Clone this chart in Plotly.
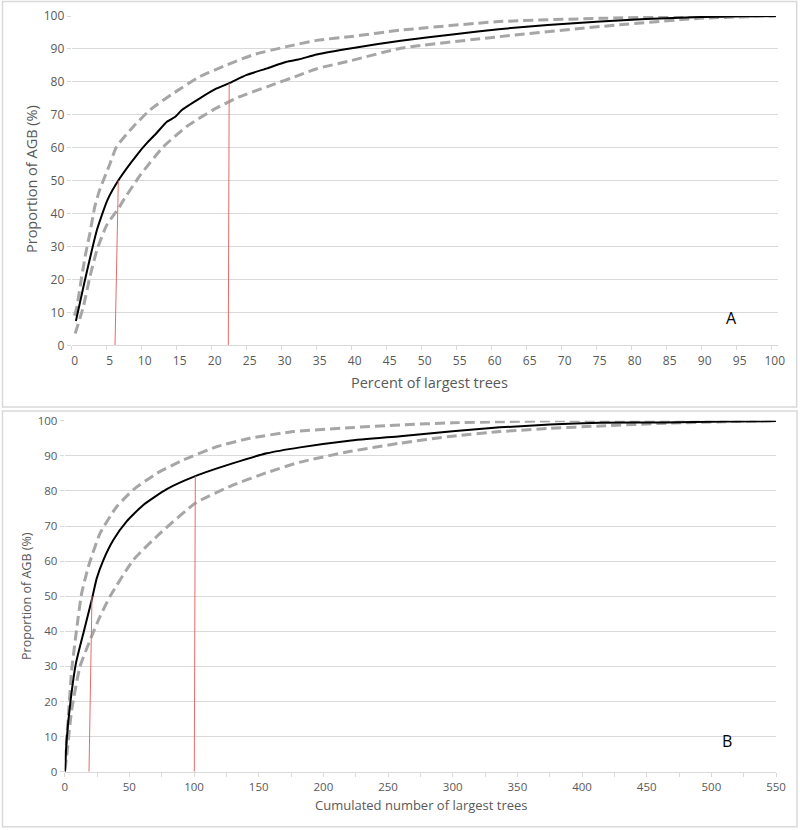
import plotly.graph_objects as go

W, H = 800, 830

# ---- panel A : percent of largest trees ----
a_mean_x = [0.6, 1.9, 3.6, 5.1, 6.7, 9.5, 10.7, 12.1, 13.6, 14.8, 15.7, 18.3, 20.7, 22.5, 25, 27.9,
            30.7, 32.4, 35, 40, 47, 55, 61, 68, 75.5, 82, 89.8, 95, 100.6]
a_mean_y = [7.4, 19.9, 35, 44.1, 50.2, 58.3, 61.3, 64.4, 67.9, 69.4, 71.4, 75.0, 78, 79.6, 82.1, 84.1,
            86.1, 86.8, 88.3, 90.2, 92.5, 94.5, 96.0, 97.3, 98.3, 99.1, 99.7, 99.9, 100]
a_hi_x = [0.4, 0.7, 1.2, 1.43, 2.0, 2.6, 3.3, 4.0, 5.5, 6.4, 8.8, 11.2, 14.5, 18.3, 22.1, 25.9, 30.7,
          35, 40, 47, 61, 75.5, 90, 100.6]
a_hi_y = [9.0, 11.3, 17.7, 20.8, 27.9, 34, 42.1, 47.2, 55.3, 60.3, 66.4, 71.5, 76.5, 81.6, 85.1, 88.2,
          90.7, 92.6, 93.8, 95.7, 98.3, 99.3, 99.8, 100]
a_lo_x = [0.5, 1.66, 2.6, 3.6, 5.0, 6.7, 7.4, 9.8, 13.1, 16.4, 20.2, 24, 27.9, 32.6, 35, 40, 47, 61,
          75.5, 89.8, 100.6]
a_lo_y = [3.6, 11.7, 20.8, 28.9, 36.5, 41.6, 44.1, 51.7, 60.3, 66.4, 71.5, 75.5, 78.5, 82.1, 84, 86.5,
          90.2, 93.7, 96.8, 99.3, 100]
a_red1_x, a_red1_y = [6.19, 6.66], [0, 50]
a_red2_x, a_red2_y = [22.37, 22.5], [0, 79.6]
a_ticks = list(range(0, 101, 5))

# ---- panel B : cumulated number of largest trees ----
b_mean_x = [0.2, 1.5, 4.6, 8.7, 14.4, 20.9, 24.7, 29.9, 37.6, 47.9, 60.8, 78.9, 101, 130.4, 156.2, 182,
            220, 259.4, 300, 336.6, 375, 414, 465, 510, 550]
b_mean_y = [0, 9, 20.4, 30.9, 39.4, 48.9, 55, 60.3, 66, 71.3, 76, 80.5, 84.2, 87.9, 90.7, 92.4,
            94.3, 95.6, 97.0, 98.1, 98.9, 99.4, 99.5, 99.8, 99.9]
b_hi_x = [0.2, 2.8, 5.4, 10.5, 13.1, 18.3, 27.3, 40.2, 53, 71.2, 91.7, 117.6, 143.3, 176.8, 220, 259.4,
          300, 336.6, 380, 550]
b_hi_y = [3.3, 15.7, 29, 44.2, 50.8, 58.4, 67.9, 75.5, 80.3, 85, 88.8, 92.6, 95, 96.9, 98.0, 98.8,
          99.4, 99.7, 100, 100]
b_lo_x = [0.2, 1.5, 5.4, 11.8, 19.6, 27.3, 35, 53, 73.7, 101, 130.4, 156.2, 182, 220, 259.4, 300,
          336.6, 375, 414, 465.6, 510, 550]
b_lo_y = [0.5, 4.3, 17.6, 29.9, 37.5, 44.2, 49.9, 60.3, 67.9, 76.5, 81.7, 85.2, 88.2, 91.2, 93.6, 95.6,
          96.9, 97.8, 98.5, 99.3, 99.7, 100]
b_red1_x, b_red1_y = [18.8, 21.1], [0, 50]
b_red2_x, b_red2_y = [100.2, 101], [0, 84.2]

FONT = "Open Sans"
GREY_TXT = "#595959"
GRID = "#d9d9d9"
DASH_COL = "#a6a6a6"
RED = "#e86a6a"


def X(p):
    return p / W


def Y(p):
    return 1 - p / H


fig = go.Figure()


def add_panel(xa, ya, mean, hi, lo, reds):
    for xs, ys in (hi, lo):
        fig.add_trace(go.Scatter(x=xs, y=ys, mode="lines", xaxis=xa, yaxis=ya,
                                 line=dict(color=DASH_COL, width=3, dash="10px,5px",
                                           shape="spline", smoothing=0.5)))
    fig.add_trace(go.Scatter(x=mean[0], y=mean[1], mode="lines", xaxis=xa, yaxis=ya,
                             line=dict(color="black", width=2, shape="spline", smoothing=0.5)))
    for xs, ys in reds:
        fig.add_trace(go.Scatter(x=xs, y=ys, mode="lines", xaxis=xa, yaxis=ya,
                                 line=dict(color=RED, width=1)))


add_panel("x", "y", (a_mean_x, a_mean_y), (a_hi_x, a_hi_y), (a_lo_x, a_lo_y),
          [(a_red1_x, a_red1_y), (a_red2_x, a_red2_y)])
add_panel("x2", "y2", (b_mean_x, b_mean_y), (b_hi_x, b_hi_y), (b_lo_x, b_lo_y),
          [(b_red1_x, b_red1_y), (b_red2_x, b_red2_y)])

xcommon = dict(showgrid=False, zeroline=False, showline=True, linecolor=GRID, linewidth=1,
               ticks="outside", ticklen=4, tickcolor=GRID, automargin=False)
ycommon = dict(range=[0, 100], dtick=10, showgrid=True, gridcolor=GRID, gridwidth=1,
               zeroline=False, showline=False, ticks="outside", ticklen=4, tickcolor=GRID,
               automargin=False)

fig.update_layout(
    width=W, height=H, showlegend=False,
    paper_bgcolor="white", plot_bgcolor="white",
    margin=dict(l=0, r=0, t=0, b=0, pad=0, autoexpand=False),
    font=dict(family=FONT, color=GREY_TXT),
    xaxis=dict(xcommon, domain=[X(71.7), X(778)], range=[0, 100.9], tickvals=a_ticks,
               ticklabelshift=3, anchor="y", tickfont=dict(size=12, color=GREY_TXT)),
    yaxis=dict(ycommon, domain=[Y(345.3), Y(16)], anchor="x",
               tickfont=dict(size=12, color=GREY_TXT)),
    xaxis2=dict(xcommon, domain=[X(64.7), X(776)], range=[0, 550], dtick=50, anchor="y2",
                minor=dict(dtick=25, ticks="outside", ticklen=4, tickcolor=GRID),
                tickfont=dict(size=11.5, color=GREY_TXT)),
    yaxis2=dict(ycommon, domain=[Y(771.7), Y(420.7)], anchor="x2",
                tickfont=dict(size=11.5, color=GREY_TXT)),
    shapes=[
        dict(type="rect", xref="paper", yref="paper", x0=X(2.5), x1=X(796.7), y0=Y(407), y1=Y(1.5),
             line=dict(color=GRID, width=1.5)),
        dict(type="rect", xref="paper", yref="paper", x0=X(2.5), x1=X(797), y0=Y(826.7), y1=Y(411),
             line=dict(color=GRID, width=1.5)),
    ],
    annotations=[
        dict(text="Percent of largest trees", xref="paper", yref="paper", x=X(429), y=Y(383),
             showarrow=False, font=dict(size=14.5, color=GREY_TXT), xanchor="center", yanchor="middle"),
        dict(text="Proportion of AGB (%)", xref="paper", yref="paper", x=X(31), y=Y(179),
             showarrow=False, textangle=-90, font=dict(size=14.5, color=GREY_TXT),
             xanchor="center", yanchor="middle"),
        dict(text="A", xref="paper", yref="paper", x=X(731.7), y=Y(318),
             showarrow=False, font=dict(size=16, color="black"), xanchor="center", yanchor="middle"),
        dict(text="Cumulated number of largest trees", xref="paper", yref="paper", x=X(421), y=Y(805),
             showarrow=False, font=dict(size=13, color=GREY_TXT), xanchor="center", yanchor="middle"),
        dict(text="Proportion of AGB (%)", xref="paper", yref="paper", x=X(26), y=Y(596),
             showarrow=False, textangle=-90, font=dict(size=12.5, color=GREY_TXT),
             xanchor="center", yanchor="middle"),
        dict(text="B", xref="paper", yref="paper", x=X(726.7), y=Y(741),
             showarrow=False, font=dict(size=16, color="black"), xanchor="center", yanchor="middle"),
    ],
)

# page body has a default 8px margin; drop it so the figure sits at the window origin
fig.write_html("out.html", config={"displayModeBar": False},
               post_script="document.body.style.margin='0';document.body.style.overflow='hidden';")
